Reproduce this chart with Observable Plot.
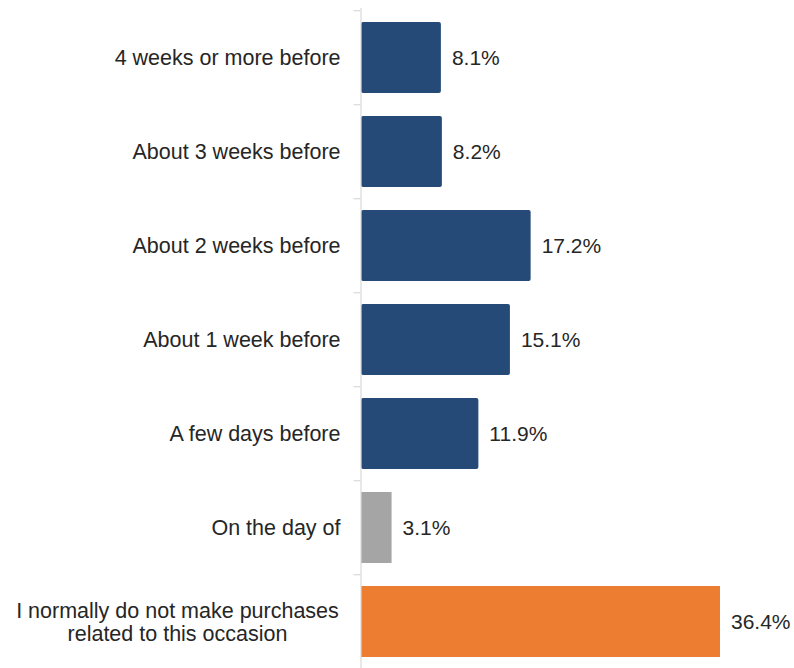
<!DOCTYPE html>
<html>
<head>
<meta charset="utf-8">
<script src="https://cdn.jsdelivr.net/npm/d3@7"></script>
<script src="https://cdn.jsdelivr.net/npm/@observablehq/plot@0.6"></script>
<style>
  html, body { margin: 0; padding: 0; background: #fff; overflow: hidden; }
  svg { display: block; }
</style>
</head>
<body>
<div id="chart"></div>
<script>
const categories = [
  "4 weeks or more before",
  "About 3 weeks before",
  "About 2 weeks before",
  "About 1 week before",
  "A few days before",
  "On the day of",
  "I normally do not make purchases\nrelated to this occasion"
];
const values = [8.1, 8.2, 17.2, 15.1, 11.9, 3.1, 36.4];
const groups = ["timing", "timing", "timing", "timing", "timing", "day", "none"];
const groupColors = {timing: "#254a78", day: "#a5a5a5", none: "#ed7d31"};

const data = categories.map((c, i) => ({category: c, value: values[i], group: groups[i]}));
const single = data.filter(d => !d.category.includes("\n"));
const multi = data.filter(d => d.category.includes("\n"));

const font = "Liberation Sans, Arial, sans-serif";
const height = 670, marginTop = 8, marginBottom = 0;
const step = (height - marginTop - marginBottom) / categories.length;

const chart = Plot.plot({
  width: 794,
  height,
  marginTop,
  marginBottom,
  marginLeft: 361,
  marginRight: 38.5,
  style: {fontFamily: font, fontSize: "21px", color: "#262626", background: "#fff"},
  x: {domain: [0, 40], axis: null},
  y: {domain: categories, paddingInner: 0.25, paddingOuter: 0.125, axis: null, label: null},
  marks: [
    Plot.barX(data.filter(d => d.group === "timing"), {x: "value", y: "category", fill: d => groupColors[d.group], rx: 2}),
    Plot.barX(data.filter(d => d.group !== "timing"), {x: "value", y: "category", fill: d => groupColors[d.group]}),
    Plot.ruleX([0], {stroke: "#d9d9d9", strokeWidth: 1.2, dx: -0.5}),
    Plot.axisY({tickSize: 7, text: null, label: null, stroke: "#d9d9d9", strokeWidth: 1.2, dy: -step / 2, dx: -0.5}),
    Plot.text(single, {x: 0, y: "category", text: "category", textAnchor: "end", dx: -21, fill: "#262626", fontSize: 21.5}),
    Plot.text(multi, {x: 0, y: "category", text: "category", textAnchor: "middle", dx: -184, lineHeight: 1.1, fill: "#262626", fontSize: 21.5}),
    Plot.text(data, {x: "value", y: "category", text: d => d.value.toFixed(1) + "%", textAnchor: "start", dx: 10.5, fill: "#262626", fontSize: 21})
  ]
});
document.getElementById("chart").appendChild(chart);
</script>
</body>
</html>
